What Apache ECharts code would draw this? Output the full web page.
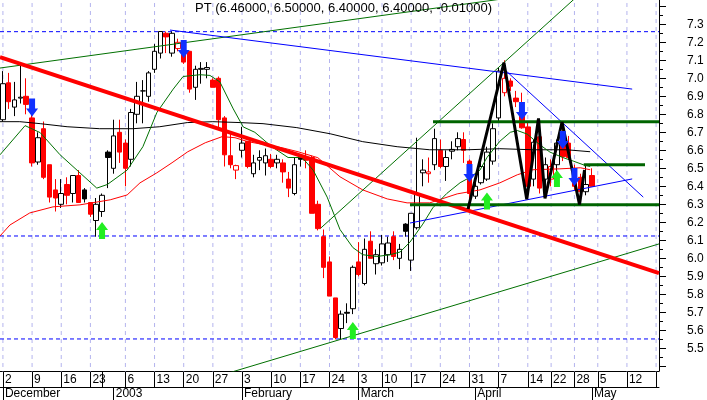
<!DOCTYPE html>
<html><head><meta charset="utf-8">
<script src="https://cdn.jsdelivr.net/npm/echarts@6/dist/echarts.min.js"></script>
<style>html,body{margin:0;padding:0;background:#fff}#c{width:707px;height:400px}</style>
</head><body><div id="c"></div>
<script>
const titleText = 'PT (6.46000, 6.50000, 6.40000, 6.40000, -0.01000)';
const categories = [
'2002-12-02','2002-12-03','2002-12-04','2002-12-05','2002-12-06','2002-12-09','2002-12-10','2002-12-11','2002-12-12','2002-12-13',
'2002-12-16','2002-12-17','2002-12-18','2002-12-19','2002-12-20','2002-12-23','2002-12-24','2002-12-30','2002-12-31',
'2003-01-02','2003-01-03','2003-01-06','2003-01-07','2003-01-08','2003-01-09','2003-01-10','2003-01-13','2003-01-14','2003-01-15',
'2003-01-16','2003-01-17','2003-01-20','2003-01-21','2003-01-22','2003-01-23','2003-01-24','2003-01-27','2003-01-28','2003-01-29',
'2003-01-30','2003-01-31',
'2003-02-03','2003-02-04','2003-02-05','2003-02-06','2003-02-07','2003-02-10','2003-02-11','2003-02-12','2003-02-13','2003-02-14',
'2003-02-17','2003-02-18','2003-02-19','2003-02-20','2003-02-21','2003-02-24','2003-02-25','2003-02-26','2003-02-27','2003-02-28',
'2003-03-03','2003-03-04','2003-03-05','2003-03-06','2003-03-10','2003-03-11','2003-03-12','2003-03-13','2003-03-14','2003-03-17',
'2003-03-18','2003-03-19','2003-03-20','2003-03-21','2003-03-24','2003-03-25','2003-03-26','2003-03-27','2003-03-28','2003-03-31',
'2003-04-01','2003-04-02','2003-04-03','2003-04-04','2003-04-07','2003-04-08','2003-04-09','2003-04-10','2003-04-11','2003-04-14',
'2003-04-15','2003-04-16','2003-04-17','2003-04-22','2003-04-23','2003-04-24','2003-04-25','2003-04-28','2003-04-29','2003-04-30',
'2003-05-02','2003-05-05','2003-05-06','2003-05-07','2003-05-08','2003-05-09','2003-05-12','2003-05-13','2003-05-14','2003-05-15',
'2003-05-16','2003-05-19'];

const opens = [6.77,6.975,6.84,6.89,6.90,6.78,6.535,6.72,6.52,6.38,
6.30,6.41,6.36,6.46,6.38,6.31,6.21,6.26,6.59,6.50,
6.70,6.64,6.55,6.80,6.93,6.90,7.05,7.14,7.25,7.14,
7.165,7.17,7.15,6.95,7.05,7.05,6.99,7.0,6.78,6.57,
6.49,6.60,6.65,6.47,6.545,6.53,6.55,6.53,6.53,6.44,
6.36,6.565,6.56,6.56,6.30,6.12,5.98,5.78,5.61,5.70,
5.72,5.98,5.86,6.095,5.97,5.975,6.02,6.12,6.0,6.19,
5.99,6.17,6.475,6.47,6.52,6.60,6.51,6.595,6.62,6.66,
6.54,6.345,6.42,6.44,6.54,6.78,6.92,6.985,6.89,6.81,
6.73,6.44,6.675,6.44,6.44,6.52,6.69,6.64,6.49,6.45,
6.37,6.46];
const highs = [7.04,7.03,6.98,7.09,7.0,6.80,6.70,6.76,6.52,6.44,
6.44,6.45,6.46,6.49,6.39,6.31,6.335,6.36,6.60,6.77,
6.77,6.66,6.83,6.98,6.99,7.04,7.19,7.26,7.26,7.26,
7.22,7.18,7.15,7.07,7.09,7.09,7.0,7.01,6.79,6.70,
6.52,6.73,6.65,6.575,6.60,6.61,6.58,6.575,6.55,6.48,
6.56,6.575,6.60,6.57,6.32,6.16,6.01,5.78,5.71,5.75,
5.96,6.09,6.11,6.15,6.05,6.13,6.12,6.15,6.08,6.195,
6.25,6.67,6.55,6.56,6.72,6.66,6.60,6.65,6.70,6.70,
6.55,6.42,6.57,6.62,6.75,7.06,7.10,7.0,6.93,6.92,
6.76,6.66,6.77,6.56,6.55,6.66,6.76,6.68,6.52,6.47,
6.52,6.50];
const lows = [6.76,6.83,6.79,6.86,6.80,6.51,6.52,6.44,6.31,6.26,
6.28,6.30,6.31,6.31,6.31,6.23,6.12,6.23,6.39,6.47,
6.53,6.40,6.51,6.75,6.75,6.87,7.03,7.11,7.14,7.12,
7.15,7.08,6.92,6.88,6.97,7.0,6.95,6.72,6.51,6.50,
6.44,6.56,6.50,6.45,6.49,6.46,6.50,6.50,6.42,6.34,
6.35,6.51,6.50,6.25,6.155,5.89,5.79,5.55,5.55,5.64,
5.69,5.90,5.85,6.0,5.91,5.96,5.98,5.99,5.94,6.12,
5.93,6.16,6.40,6.42,6.49,6.50,6.43,6.55,6.60,6.53,
6.27,6.33,6.41,6.43,6.52,6.76,6.90,6.93,6.84,6.72,
6.33,6.40,6.36,6.34,6.40,6.48,6.54,6.55,6.38,6.30,
6.35,6.40];
const closes = [6.97,6.87,6.88,6.895,6.855,6.53,6.67,6.45,6.34,6.335,
6.36,6.35,6.46,6.31,6.33,6.245,6.30,6.35,6.56,6.68,
6.59,6.50,6.81,6.90,6.93,7.03,7.15,7.26,7.23,7.25,
7.20,7.09,6.94,7.05,7.055,7.06,6.95,6.77,6.575,6.52,
6.515,6.64,6.51,6.53,6.56,6.57,6.51,6.55,6.48,6.39,
6.52,6.55,6.545,6.25,6.165,5.95,5.79,5.56,5.69,5.695,
5.95,5.91,6.05,6.0,6.02,6.08,6.085,6.01,6.05,6.15,
6.25,6.36,6.49,6.48,6.665,6.51,6.56,6.605,6.665,6.60,
6.36,6.40,6.51,6.59,6.72,7.04,7.0,6.956,6.87,6.725,
6.40,6.645,6.39,6.52,6.51,6.64,6.565,6.56,6.40,6.37,
6.41,6.40];

// moving averages: [day index, price]
const maGreen = [[-0.5,6.575],[3.8,6.737],[6.4,6.698],[9.8,6.575],[13.2,6.475],[16.1,6.39],[17.9,6.41],[21.3,6.49],[24.0,6.62],[26.4,6.81],[29.2,6.94],[30.9,7.01],[33.8,7.02],[35.5,7.016],[37.2,6.98],[39.5,6.83],[41.2,6.73],[43.2,6.70],[46.1,6.62],[48.9,6.56],[51.3,6.56],[53.2,6.49],[55.6,6.34],[57.8,6.16],[60.0,6.06],[61.7,6.02],[64.1,6.01],[66.4,6.02],[68.1,6.035],[69.8,6.09],[72.0,6.19],[73.7,6.28],[76.1,6.36],[78.4,6.42],[80.1,6.45],[81.8,6.49],[83.0,6.56],[85.2,6.65],[87.0,6.70],[88.2,6.71],[89.9,6.69],[92.1,6.63],[93.8,6.59],[96.0,6.56],[97.8,6.54],[99.5,6.52],[100.7,6.51]];
const maRed = [[-0.5,6.124],[1.2,6.185],[4.6,6.252],[8.6,6.286],[13.2,6.297],[18.4,6.325],[21.3,6.352],[23.5,6.419],[26.4,6.475],[29.0,6.531],[31.7,6.592],[34.7,6.642],[37.6,6.676],[39.8,6.67],[42.0,6.648],[44.9,6.631],[47.9,6.614],[50.6,6.592],[54.0,6.559],[57.8,6.453],[61.7,6.38],[65.9,6.33],[69.3,6.308],[73.2,6.308],[77.9,6.358],[81.8,6.38],[85.2,6.419],[88.2,6.464],[90.9,6.492],[95.5,6.497],[99.0,6.503],[100.7,6.492]];
const maBlack = [[-0.5,6.759],[2.9,6.759],[6.4,6.748],[11.0,6.731],[16.6,6.72],[22.3,6.72],[26.9,6.731],[31.6,6.754],[36.0,6.759],[40.7,6.754],[44.6,6.748],[50.4,6.726],[56.1,6.692],[61.7,6.648],[67.6,6.62],[73.2,6.603],[79.6,6.603],[85.2,6.609],[90.9,6.603],[96.7,6.603],[100.7,6.592]];

// drawn trend lines: [day index, price] end points
const redTrend = [[-0.5,7.118],[112.5,5.918]];
const greenUpper = [[-0.5,7.057],[100,7.505]];
const greenDiag = [[54.5,6.168],[100,7.50]];
const greenLower = [[39,5.366],[112.5,6.08]];
const blueUpper = [[28.65,7.268],[107.9,6.94]];
const blueLower = [[69.8,6.196],[107.9,6.441]];
const blueDiag = [[85.75,7.057],[109.8,6.34]];
const greenLevelTop = [[73.75,6.759],[112.5,6.759]];
const greenLevelBottom = [[69.8,6.298],[112.5,6.298]];
const greenLevelMid = [[99.6,6.52],[110.1,6.52]];
const zigzag = [[79.75,6.274],[85.92,7.087],[89.82,6.328],[91.84,6.777],[92.95,6.333],[95.87,6.757],[98.87,6.299],[99.73,6.491]];
const dashedLevels = [7.259,6.124,5.552];

const blueArrows = [[5,6.838],[31,7.163],[80,6.474],[89,6.818],[96,6.657],[98,6.452]];
const greenArrows = [[17,6.154],[60,5.599],[83,6.318],[95,6.443]];

const dayTickIdx = [0,5,10,15,17,21,26,31,36,41,46,51,56,61,65,70,75,80,85,90,94,98,102,107,112];
const dayTickText = ['2','9','16','23','','6','13','20','27','3','10','17','24','3','10','17','24','31','7','14','22','28','5','12',''];
const gridIdx = [0,5,10,15,21,26,31,36,41,46,51,56,61,65,70,75,80,85,90,94,98,102,107,112];
const monthTickIdx = [0,19,41,61,81,101];
const monthTickText = ['December','2003','February','March','April','May'];
const yLabelValues = [5.5,5.6,5.7,5.8,5.9,6.0,6.1,6.2,6.3,6.4,6.5,6.6,6.7,6.8,6.9,7.0,7.1,7.2,7.3];
const yMajorTicks = [5.4,5.5,5.6,5.7,5.8,5.9,6.0,6.1,6.2,6.3,6.4,6.5,6.6,6.7,6.8,6.9,7.0,7.1,7.2,7.3,7.4];
const yMinorTicks = [5.45,5.55,5.65,5.75,5.85,5.95,6.05,6.15,6.25,6.35,6.45,6.55,6.65,6.75,6.85,6.95,7.05,7.15,7.25,7.35];

const yMin = 5.374, yMax = 7.435;
const N = categories.length;
const FONT = 'Liberation Sans';

const candleData = opens.map((o, i) => {
  const c = closes[i];
  const prev = i > 0 ? closes[i - 1] : c;
  const col = c < prev ? '#ff0000' : '#000000';
  const fill = c > o ? '#ffffff' : col;
  return { value: [o, c, lows[i], highs[i]],
    itemStyle: { color: fill, color0: fill, borderColor: col, borderColor0: col, borderColorDoji: col } };
});

function line(data, color, width, z, type) {
  return { type: 'line', xAxisIndex: 1, yAxisIndex: 0, data: data, symbol: 'none', silent: true, z: z,
    lineStyle: { color: color, width: width, type: type || 'solid' }, clip: true };
}

const series = [];
gridIdx.forEach(i => series.push(line([[i, yMin - 1], [i, yMax + 1]], '#b4b4ee', 1, 1, [4, 4])));
dashedLevels.forEach(v => series.push(line([[-0.5, v], [N - 0.5, v]], '#0000ff', 1, 2, [4, 3])));
series.push({ type: 'candlestick', xAxisIndex: 0, yAxisIndex: 0, data: candleData, barWidth: 5, z: 3, silent: true });
series.push(line(maBlack, '#000000', 1, 4));
series.push(line(maRed, '#ff0000', 1, 4));
series.push(line(maGreen, '#007000', 1, 4));
series.push(line(greenUpper, '#007000', 1, 5));
series.push(line(greenDiag, '#007000', 1, 5));
series.push(line(greenLower, '#007000', 1, 5));
series.push(line(blueUpper, '#0000ff', 1, 5));
series.push(line(blueLower, '#0000ff', 1, 5));
series.push(line(blueDiag, '#0000ff', 1, 5));
series.push(line(redTrend, '#ff0000', 4, 6));
series.push(line(greenLevelTop, '#006400', 3, 6));
series.push(line(greenLevelBottom, '#006400', 3, 6));
series.push(line(greenLevelMid, '#006400', 3, 6));
series.push(line(zigzag, '#000000', 3, 7));
series.push({ type: 'scatter', xAxisIndex: 1, yAxisIndex: 0, data: blueArrows, z: 8, silent: true,
  symbol: 'path://M3,0 L9,0 L9,10 L12,10 L6,18 L0,10 L3,10 Z', symbolSize: [12, 18], symbolKeepAspect: false,
  itemStyle: { color: '#1030ff', opacity: 1 } });
series.push({ type: 'scatter', xAxisIndex: 1, yAxisIndex: 0, data: greenArrows, z: 8, silent: true,
  symbol: 'path://M6,0 L12,8 L9,8 L9,17 L3,17 L3,8 L0,8 Z', symbolSize: [12, 17], symbolKeepAspect: false,
  itemStyle: { color: '#22ee22', opacity: 1 } });

const option = {
  animation: false,
  backgroundColor: '#ffffff',
  title: { text: titleText, left: 195, top: 2, padding: 0,
    textStyle: { fontFamily: FONT, fontSize: 13, fontWeight: 'normal', color: '#000' } },
  grid: { left: 0, top: 0, right: 48, bottom: 29, containLabel: false },
  xAxis: [
    { type: 'category', data: categories, position: 'bottom', boundaryGap: true,
      axisLine: { show: true, lineStyle: { color: '#000', width: 1 } },
      axisTick: { show: true, alignWithLabel: true, interval: (i) => dayTickIdx.includes(i), length: 16, lineStyle: { color: '#000' } },
      axisLabel: { show: true, interval: (i) => dayTickIdx.includes(i),
        formatter: (v, i) => dayTickText[dayTickIdx.indexOf(i)] || '',
        align: 'left', padding: [0, 0, 0, 2], margin: 3, fontSize: 12, fontFamily: FONT, color: '#000' },
      splitLine: { show: false } },
    { type: 'value', min: -0.5, max: N - 0.5, show: false, position: 'top' },
    { type: 'category', data: categories, position: 'bottom', offset: 16, boundaryGap: true,
      axisLine: { show: true, lineStyle: { color: '#000', width: 1 } },
      axisTick: { show: true, alignWithLabel: true, interval: (i) => monthTickIdx.includes(i), length: 14, lineStyle: { color: '#000' } },
      axisLabel: { show: true, interval: (i) => monthTickIdx.includes(i),
        formatter: (v, i) => monthTickText[monthTickIdx.indexOf(i)] || '',
        align: 'left', padding: [0, 0, 0, 2], margin: 1, fontSize: 12, fontFamily: FONT, color: '#000' },
      splitLine: { show: false } }
  ],
  yAxis: [
    { type: 'value', position: 'right', min: yMin, max: yMax,
      axisLine: { show: true, onZero: false, lineStyle: { color: '#000' } },
      axisTick: { show: true, customValues: yMajorTicks, length: 7, lineStyle: { color: '#000' } },
      axisLabel: { show: true, customValues: yLabelValues, formatter: (v) => Number(v).toFixed(1),
        margin: 28, fontSize: 12, fontFamily: FONT, color: '#000' },
      splitLine: { show: false } },
    { type: 'value', position: 'right', min: yMin, max: yMax,
      axisLine: { show: false, onZero: false },
      axisTick: { show: true, customValues: yMinorTicks, length: 4, lineStyle: { color: '#000' } },
      axisLabel: { show: false }, splitLine: { show: false } }
  ],
  series: series
};
const chart = echarts.init(document.getElementById('c'));
chart.setOption(option);
</script></body></html>
